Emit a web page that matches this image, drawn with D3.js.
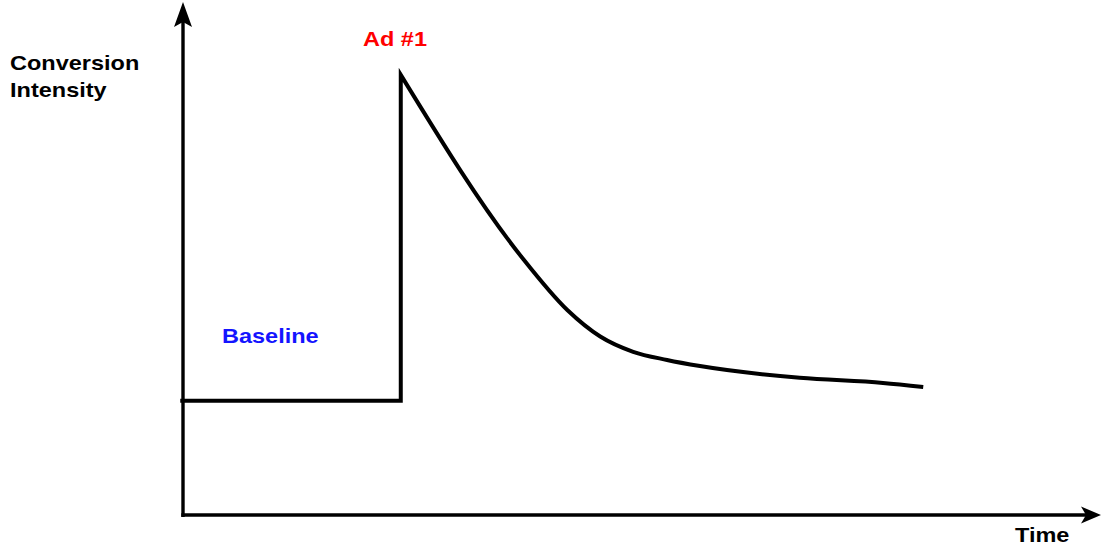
<!DOCTYPE html>
<html>
<head>
<meta charset="utf-8">
<script src="https://cdn.jsdelivr.net/npm/d3@7"></script>
<style>
  html, body { margin: 0; padding: 0; background: #fff; }
  svg { display: block; }
  text { font-family: Arial, "Liberation Sans", sans-serif; font-weight: bold; }
</style>
</head>
<body>
<div id="chart"></div>
<script>
/*DATA*/
// time runs 0..100, intensity runs 0..100 (no ticks on the original)
const baselineTime = [-0.3, 23.8];
const baselineLevel = 22.4;
const adTime = 23.8;
const adPeak = 86.3;

// decay after the ad
const decayTime = [23.8, 37.0, 42.0, 45.6, 49.2, 52.9, 56.5, 67.4, 76.5, 80.9];
const decayLevel = [86.3, 50.6, 40.2, 35.0, 32.0, 30.4, 29.2, 26.9, 25.9, 25.1];

const labels = {
	yTitle: ['Conversion', 'Intensity'],
	xTitle: 'Time',
	ad: 'Ad #1',
	base: 'Baseline'
};
/////////////////////////////////////////////////////////////////////////////

//STYLING
const size = { width: 1103, height: 550 };
const axisStyle = { color: '#000', width: 3.4 };
const lineStyle = { color: '#000', width: 4 };
const fontSize = 21;
const stretch = 1.12; // text in the source is a bit wider than plain Arial

const svg = d3.select('#chart').append('svg')
	.attr('width', size.width)
	.attr('height', size.height);

const x = d3.scaleLinear().domain([0, 100]).range([183, 1098]);
const y = d3.scaleLinear().domain([0, 100]).range([515, 5]);

// axes with arrow heads
svg.append('line')
	.attr('x1', x(0)).attr('y1', y(0) + 2)
	.attr('x2', x(0)).attr('y2', 22)
	.attr('stroke', axisStyle.color)
	.attr('stroke-width', axisStyle.width);

svg.append('path')
	.attr('d', `M${x(0)},2 L${x(0) + 9},27 L${x(0)},22 L${x(0) - 9},27 Z`)
	.attr('fill', axisStyle.color);

svg.append('line')
	.attr('x1', x(0) - 1.7).attr('y1', y(0))
	.attr('x2', 1086).attr('y2', y(0))
	.attr('stroke', axisStyle.color)
	.attr('stroke-width', axisStyle.width);

svg.append('path')
	.attr('d', `M1101,${y(0)} L1081,${y(0) - 8.5} L1086,${y(0)} L1081,${y(0) + 8.5} Z`)
	.attr('fill', axisStyle.color);

// baseline + jump, then the decay
const line = d3.line()
	.x(d => x(d[0]))
	.y(d => y(d[1]));

const stepPts = [
	[baselineTime[0], baselineLevel],
	[baselineTime[1], baselineLevel],
	[adTime, adPeak]
];
const decayPts = decayTime.map((t, i) => [t, decayLevel[i]]);

const smooth = d3.line()
	.x(d => x(d[0]))
	.y(d => y(d[1]))
	.curve(d3.curveMonotoneX);

// one path so the peak gets a clean miter
const d = line(stepPts) + smooth(decayPts).replace(/^M[^LC]*/, '');

svg.append('path')
	.attr('d', d)
	.attr('fill', 'none')
	.attr('stroke', lineStyle.color)
	.attr('stroke-width', lineStyle.width)
	.attr('stroke-linejoin', 'miter');

// texts
const addText = (str, px, py, color) => {
	svg.append('text')
		.attr('transform', `translate(${px},${py}) scale(${stretch},1)`)
		.attr('font-size', fontSize)
		.attr('fill', color)
		.text(str);
};

addText(labels.yTitle[0], 10, 70, '#000');
addText(labels.yTitle[1], 10, 97, '#000');
addText(labels.ad, 363, 46, '#ff0000');
addText(labels.base, 222, 343, '#1414ff');
addText(labels.xTitle, 1015, 542, '#000');
</script>
</body>
</html>
